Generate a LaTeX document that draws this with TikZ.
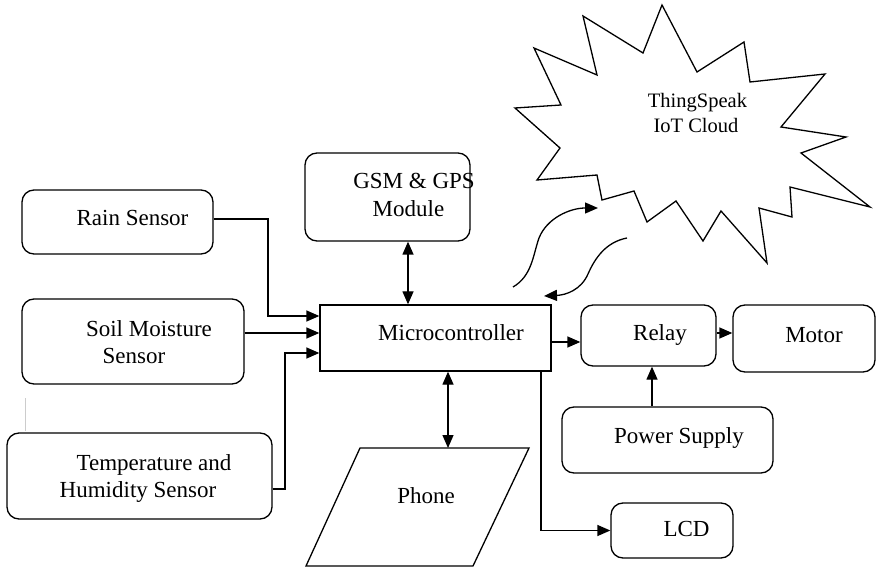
\documentclass[tikz,border=0pt]{standalone}
\usepackage{fontspec}
\setmainfont{Liberation Serif}
\usetikzlibrary{arrows.meta}
\begin{document}
\begin{tikzpicture}[x=1pt,y=-1pt,
  every node/.style={font=\fontsize{23}{27}\selectfont},
  box/.style={draw, line width=1.3pt, rounded corners=12pt, inner sep=0pt},
  sqbox/.style={draw, line width=1.3pt, inner sep=0pt},
  lbl/.style={anchor=base, inner sep=0pt},
  arr/.style={line width=1.3pt, -{Triangle[length=13pt,width=11pt]}},
  darr/.style={line width=1.3pt, {Triangle[length=13pt,width=11pt]}-{Triangle[length=13pt,width=11pt]}},
  wave/.style={line width=1.3pt}]
\useasboundingbox (0,0) rectangle (876,572);

% blocks
\node[box, minimum width=191pt, minimum height=64pt] (rain) at (117.5,222) {};
\node[box, minimum width=222pt, minimum height=85pt] (soil) at (133,341.5) {};
\node[box, minimum width=265pt, minimum height=86pt] (temp) at (139.5,476) {};
\node[box, minimum width=165pt, minimum height=88pt] (gsm) at (387.5,197) {};
\node[sqbox, minimum width=231pt, minimum height=66pt] (micro) at (435.5,338) {};
\node[box, minimum width=135pt, minimum height=61pt] (relay) at (648.5,335.5) {};
\node[box, minimum width=142pt, minimum height=67pt] (motor) at (804,338.5) {};
\node[box, minimum width=211pt, minimum height=66pt] (power) at (667.5,440) {};
\node[box, minimum width=122pt, minimum height=55pt] (lcd) at (672,530.5) {};

% phone (parallelogram)
\coordinate (ph1) at (360,448);
\coordinate (ph2) at (529,448);
\coordinate (ph3) at (473,566);
\coordinate (ph4) at (306,566);
\coordinate (phonetop) at (448,448);
\draw[line width=1.3pt] (ph1) -- (ph2) -- (ph3) -- (ph4) -- cycle;

% cloud (starburst)
\draw[line width=1.3pt, line join=miter]
  (662,5) -- (697,72) -- (744,42) -- (750,82) -- (825,74) -- (781,127)
  -- (846,137) -- (801,153) -- (870,207) -- (790,187) -- (792,217)
  -- (759,208) -- (767,263) -- (721,211) -- (703,241) -- (676,201)
  -- (647,222) -- (634,191) -- (602,200) -- (597,175) -- (537,180)
  -- (560,148) -- (515,108) -- (561,105) -- (534,48) -- (597,75)
  -- (583,16) -- (643,53) -- cycle;

% labels
\node[lbl] (rainA) at (132.5,226) {Rain Sensor};
\node[lbl] (soilA) at (149,337) {Soil Moisture};
\node[lbl] (soilB) at (134,363) {Sensor};
\node[lbl] (tempA) at (154,470) {Temperature and};
\node[lbl] (tempB) at (138,497) {Humidity Sensor};
\node[lbl] (gsmA) at (414,189) {GSM \& GPS};
\node[lbl] (gsmB) at (408.5,217) {Module};
\node[lbl] (microA) at (451,340) {Microcontroller};
\node[lbl] (relayA) at (660,341) {Relay};
\node[lbl] (motorA) at (814,342) {Motor};
\node[lbl] (powerA) at (679,443) {Power Supply};
\node[lbl] (lcdA) at (686.5,536) {LCD};
\node[lbl] (phone) at (426,503) {Phone};
\node[lbl, font=\fontsize{20.5}{27}\selectfont] (cloudA) at (697.5,108) {ThingSpeak};
\node[lbl, font=\fontsize{20.5}{27}\selectfont] (cloudB) at (696,133) {IoT Cloud};

% sensor inputs
\draw[arr] (rain.east |- 0,219) -| (268,316) -- (micro.west |- 0,316);
\draw[arr] (soil.east |- 0,333) -- (micro.west |- 0,333);
\draw[arr] (temp.east |- 0,489) -| (285,353) -- (micro.west |- 0,353);

% bidirectional links
\draw[darr] (gsm.south -| 408,0) -- (micro.north -| 408,0);
\draw[darr] (micro.south -| 448,0) -- (phonetop);

% outputs
\draw[arr] (micro.east |- 0,342) -- (relay.west |- 0,342);
\draw[arr] (relay.east |- 0,333) -- (motor.west |- 0,333);
\draw[arr] (power.north -| 652,0) -- (relay.south -| 652,0);
\draw[arr] (micro.south -| 541,0) |- (lcd.west);

% wireless links to the cloud
\coordinate (up0) at (513,287);
\coordinate (up1) at (598,208);
\coordinate (dn0) at (627,238);
\coordinate (dn1) at (544,296);
\draw[wave, -{Triangle[length=13pt,width=11pt]}]
  (up0) .. controls (532,276) and (533,255) .. (539,238)
        .. controls (547,218) and (570,208) .. (up1);
\draw[wave, -{Triangle[length=13pt,width=11pt]}]
  (dn0) .. controls (606,242) and (595,258) .. (588,274)
        .. controls (581,290) and (566,295) .. (dn1);

% stray guide mark
\draw[black!20, line width=1pt] (25,398) -- (25,431);
\end{tikzpicture}
\end{document}
